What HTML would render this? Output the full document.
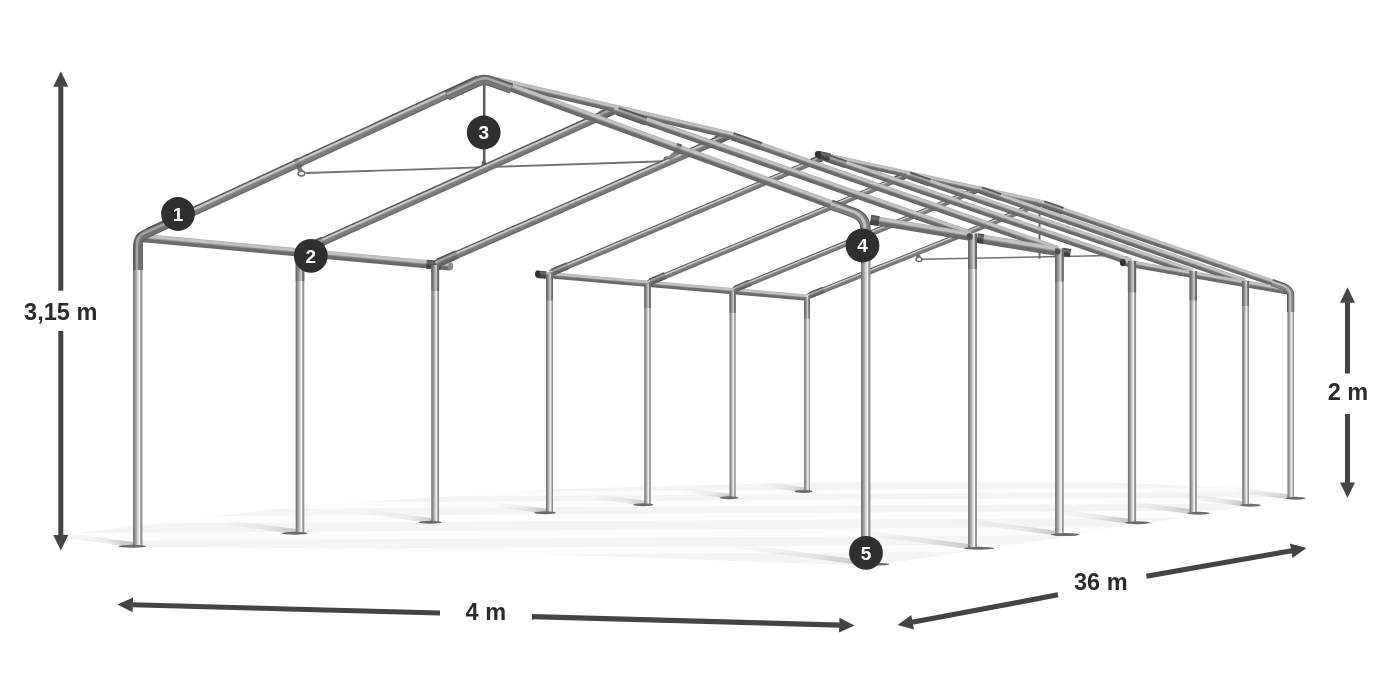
<!DOCTYPE html>
<html><head><meta charset="utf-8"><title>Tent frame</title>
<style>
html,body{margin:0;padding:0;background:#fff;}
body{width:1400px;height:700px;overflow:hidden;}
svg{display:block;font-family:"Liberation Sans",sans-serif;}
text{-webkit-font-smoothing:antialiased;}
</style></head><body>
<svg width="1400" height="700" viewBox="0 0 1400 700">
<rect width="1400" height="700" fill="#ffffff"/>
<g opacity="0.999">

<defs>
<linearGradient id="gr" x1="0" y1="0" x2="0" y2="1">
 <stop offset="0" stop-color="#585858"/><stop offset="0.12" stop-color="#5c5c5c"/>
 <stop offset="0.22" stop-color="#c4c4c4"/><stop offset="0.34" stop-color="#cacaca"/>
 <stop offset="0.48" stop-color="#868686"/><stop offset="0.85" stop-color="#737373"/>
 <stop offset="1" stop-color="#686868"/>
</linearGradient>
<linearGradient id="gc" x1="0" y1="0" x2="0" y2="1">
 <stop offset="0" stop-color="#525252"/><stop offset="0.15" stop-color="#585858"/>
 <stop offset="0.28" stop-color="#a0a0a0"/><stop offset="0.40" stop-color="#a4a4a4"/>
 <stop offset="0.56" stop-color="#707070"/><stop offset="1" stop-color="#5a5a5a"/>
</linearGradient>
<linearGradient id="ge" x1="0" y1="0" x2="0" y2="1">
 <stop offset="0" stop-color="#a4a4a4"/><stop offset="0.10" stop-color="#bebebe"/>
 <stop offset="0.36" stop-color="#c4c4c4"/><stop offset="0.50" stop-color="#8e8e8e"/>
 <stop offset="0.62" stop-color="#6e6e6e"/><stop offset="1" stop-color="#666666"/>
</linearGradient>
<linearGradient id="gd" x1="0" y1="0" x2="0" y2="1">
 <stop offset="0" stop-color="#4a4a4a"/><stop offset="0.3" stop-color="#6e6e6e"/>
 <stop offset="0.6" stop-color="#474747"/><stop offset="1" stop-color="#3a3a3a"/>
</linearGradient>
<linearGradient id="gp" x1="0" y1="0" x2="1" y2="0">
 <stop offset="0" stop-color="#6c6c6c"/><stop offset="0.08" stop-color="#787878"/>
 <stop offset="0.40" stop-color="#b8b8b8"/><stop offset="0.64" stop-color="#f0f0f0"/>
 <stop offset="0.74" stop-color="#f4f4f4"/><stop offset="0.81" stop-color="#9c9c9c"/>
 <stop offset="1" stop-color="#888888"/>
</linearGradient>
<linearGradient id="gpc" x1="0" y1="0" x2="1" y2="0">
 <stop offset="0" stop-color="#626262"/><stop offset="0.15" stop-color="#707070"/>
 <stop offset="0.45" stop-color="#a4a4a4"/><stop offset="0.62" stop-color="#d0d0d0"/>
 <stop offset="0.72" stop-color="#b8b8b8"/><stop offset="0.80" stop-color="#707070"/>
 <stop offset="1" stop-color="#606060"/>
</linearGradient>
<linearGradient id="gsh" x1="1" y1="0" x2="0" y2="0">
 <stop offset="0" stop-color="#000" stop-opacity="0.20"/><stop offset="0.35" stop-color="#000" stop-opacity="0.07"/>
 <stop offset="1" stop-color="#000" stop-opacity="0"/>
</linearGradient>
</defs>
<polygon points="78,533 300,506 560,489 820,482 1100,482 1250,488 1290,499 1080,535 870,566 600,556 300,548 130,547" fill="#f4f4f4"/>
<polygon points="60,494 1310,487 1310,491.5 60,498.5" fill="#fff" fill-opacity="0.75"/>
<polygon points="60,504 1310,497 1310,503 60,510" fill="#fff" fill-opacity="0.8"/>
<polygon points="60,517 1310,510 1310,517 60,524" fill="#fff" fill-opacity="0.8"/>
<polygon points="60,533 1310,526 1310,534 60,541" fill="#fff" fill-opacity="0.75"/>
<polygon points="60,550 1310,543 1310,550 60,557" fill="#fff" fill-opacity="0.7"/>
<rect x="-145.8" y="-5.0" width="145.8" height="5.0" fill="url(#gsh)" transform="translate(862.7,565.2) rotate(7.5)"/>
<rect x="-125.0" y="-5.0" width="125.0" height="5.0" fill="url(#gsh)" transform="translate(969.5,549.2) rotate(7.5)"/>
<rect x="-107.3" y="-5.0" width="107.3" height="5.0" fill="url(#gsh)" transform="translate(1056.4,535.6) rotate(7.5)"/>
<rect x="-91.8" y="-5.0" width="91.8" height="5.0" fill="url(#gsh)" transform="translate(1129.0,523.7) rotate(7.5)"/>
<rect x="-79.5" y="-5.0" width="79.5" height="5.0" fill="url(#gsh)" transform="translate(1190.2,514.2) rotate(7.5)"/>
<rect x="-69.1" y="-5.0" width="69.1" height="5.0" fill="url(#gsh)" transform="translate(1242.6,506.2) rotate(7.5)"/>
<rect x="-60.0" y="-5.0" width="60.0" height="5.0" fill="url(#gsh)" transform="translate(1287.7,499.2) rotate(7.5)"/>
<rect x="-90.4" y="-5.0" width="90.4" height="5.0" fill="url(#gsh)" transform="translate(134.7,547.2) rotate(7.5)"/>
<rect x="-78.7" y="-5.0" width="78.7" height="5.0" fill="url(#gsh)" transform="translate(297.0,534.2) rotate(7.5)"/>
<rect x="-68.8" y="-5.0" width="68.8" height="5.0" fill="url(#gsh)" transform="translate(432.2,523.2) rotate(7.5)"/>
<rect x="-60.2" y="-5.0" width="60.2" height="5.0" fill="url(#gsh)" transform="translate(546.5,513.7) rotate(7.5)"/>
<rect x="-53.0" y="-5.0" width="53.0" height="5.0" fill="url(#gsh)" transform="translate(644.5,505.7) rotate(7.5)"/>
<rect x="-46.8" y="-5.0" width="46.8" height="5.0" fill="url(#gsh)" transform="translate(729.6,498.7) rotate(7.5)"/>
<rect x="-41.1" y="-5.0" width="41.1" height="5.0" fill="url(#gsh)" transform="translate(804.0,492.4) rotate(7.5)"/>
<rect x="0" y="-4.10" width="310.80" height="8.20" fill="url(#ge)" transform="translate(141.00,237.90) rotate(5.243)"/>
<ellipse cx="450.6" cy="266.3" rx="2.6" ry="4.0" fill="#8c8c8c"/>
<rect x="0" y="-4.40" width="14.56" height="8.80" fill="url(#gd)" transform="translate(426.50,264.10) rotate(5.123)"/>
<rect x="0" y="-3.10" width="271.01" height="6.20" fill="url(#ge)" transform="translate(537.00,274.20) rotate(4.953)"/>
<rect x="0" y="-3.70" width="9.04" height="7.40" fill="url(#gd)" transform="translate(537.00,274.20) rotate(5.080)"/>
<ellipse cx="537.6" cy="274.1" rx="2.6" ry="3.5" fill="#333"/>
<rect x="804.12" y="297.50" width="5.75" height="193.70" fill="url(#gp)"/>
<rect x="804.12" y="297.50" width="5.75" height="21.00" fill="url(#gpc)"/>
<ellipse cx="803.50" cy="491.40" rx="9.00" ry="1.5" fill="#6a6a6a"/>
<rect x="729.55" y="291.00" width="6.10" height="206.50" fill="url(#gp)"/>
<rect x="729.55" y="291.00" width="6.10" height="22.00" fill="url(#gpc)"/>
<ellipse cx="729.10" cy="497.70" rx="9.60" ry="1.5" fill="#6a6a6a"/>
<rect x="644.30" y="284.00" width="6.40" height="220.50" fill="url(#gp)"/>
<rect x="644.30" y="284.00" width="6.40" height="24.00" fill="url(#gpc)"/>
<ellipse cx="643.35" cy="504.70" rx="10.35" ry="1.5" fill="#6a6a6a"/>
<rect x="546.00" y="274.50" width="7.00" height="238.00" fill="url(#gp)"/>
<rect x="546.00" y="274.50" width="7.00" height="26.00" fill="url(#gpc)"/>
<ellipse cx="545.00" cy="512.70" rx="11.00" ry="1.5" fill="#6a6a6a"/>
<rect x="431.30" y="265.00" width="7.80" height="257.00" fill="url(#gp)"/>
<rect x="431.30" y="265.00" width="7.80" height="26.00" fill="url(#gpc)"/>
<ellipse cx="430.35" cy="522.20" rx="11.65" ry="1.5" fill="#6a6a6a"/>
<rect x="295.70" y="252.50" width="8.60" height="280.50" fill="url(#gp)"/>
<rect x="295.70" y="252.50" width="8.60" height="28.50" fill="url(#gpc)"/>
<ellipse cx="294.75" cy="533.20" rx="12.75" ry="1.5" fill="#6a6a6a"/>
<rect x="133.00" y="244.00" width="9.40" height="302.00" fill="url(#gp)"/>
<rect x="133.00" y="244.00" width="9.40" height="26.00" fill="url(#gpc)"/>
<ellipse cx="132.25" cy="546.20" rx="13.95" ry="1.5" fill="#6a6a6a"/>
<line x1="305.70" y1="173.00" x2="664.00" y2="161.30" stroke="#727272" stroke-width="1.90" stroke-linecap="butt"/>
<line x1="484.20" y1="84.00" x2="484.20" y2="168.30" stroke="#626262" stroke-width="2.60" stroke-linecap="butt"/>
<line x1="921.00" y1="259.20" x2="1100.00" y2="255.80" stroke="#707070" stroke-width="1.60" stroke-linecap="butt"/>
<line x1="1100.00" y1="255.80" x2="1128.00" y2="257.00" stroke="#8a8a8a" stroke-width="1.20" stroke-linecap="butt"/>
<line x1="1039.50" y1="205.00" x2="1039.50" y2="258.80" stroke="#6a6a6a" stroke-width="2.00" stroke-linecap="butt"/>
<ellipse cx="301.4" cy="173.6" rx="3.3" ry="2.5" fill="none" stroke="#6c6c6c" stroke-width="1.5"/>
<ellipse cx="667.2" cy="159.4" rx="3.0" ry="2.4" fill="none" stroke="#6c6c6c" stroke-width="1.5"/>
<ellipse cx="919.0" cy="259.4" rx="3.1" ry="2.1" fill="none" stroke="#6c6c6c" stroke-width="1.3"/>
<polygon points="914.2,253.2 917.4,251.8 921.4,257.6 917.2,258.4" fill="#707070"/>
<ellipse cx="484" cy="164.5" rx="1.6" ry="4.2" fill="none" stroke="#666" stroke-width="1.2"/>
<rect x="0" y="-2.85" width="249.50" height="5.70" fill="url(#gr)" transform="translate(808.00,296.30) rotate(-21.836)"/>
<rect x="0" y="-3.25" width="14.87" height="6.50" fill="url(#gc)" transform="translate(809.86,295.26) rotate(-21.857)"/>
<rect x="0" y="-3.15" width="8.91" height="6.30" fill="url(#gc)" transform="translate(1030.40,206.79) rotate(-21.857)"/>
<rect x="0" y="-2.95" width="263.18" height="5.90" fill="url(#gr)" transform="translate(733.60,289.80) rotate(-22.355)"/>
<rect x="0" y="-3.35" width="15.39" height="6.70" fill="url(#gc)" transform="translate(735.45,288.74) rotate(-22.375)"/>
<rect x="0" y="-3.25" width="9.26" height="6.50" fill="url(#gc)" transform="translate(967.51,193.21) rotate(-22.375)"/>
<rect x="0" y="-3.10" width="278.42" height="6.20" fill="url(#gr)" transform="translate(648.50,282.80) rotate(-22.623)"/>
<rect x="0" y="-3.50" width="16.17" height="7.00" fill="url(#gc)" transform="translate(650.35,281.73) rotate(-22.642)"/>
<rect x="0" y="-3.40" width="9.78" height="6.80" fill="url(#gc)" transform="translate(895.55,179.45) rotate(-22.642)"/>
<rect x="0" y="-3.25" width="295.01" height="6.50" fill="url(#gr)" transform="translate(550.50,273.30) rotate(-23.028)"/>
<rect x="0" y="-3.65" width="16.96" height="7.30" fill="url(#gc)" transform="translate(552.34,272.22) rotate(-23.046)"/>
<rect x="0" y="-3.55" width="10.30" height="7.10" fill="url(#gc)" transform="translate(811.60,161.93) rotate(-23.046)"/>
<rect x="0" y="-4.00" width="319.57" height="8.00" fill="url(#gr)" transform="translate(436.20,263.80) rotate(-23.709)"/>
<rect x="0" y="-4.40" width="20.87" height="8.80" fill="url(#gc)" transform="translate(438.03,262.70) rotate(-23.726)"/>
<rect x="0" y="-4.30" width="12.91" height="8.60" fill="url(#gc)" transform="translate(716.06,140.50) rotate(-23.726)"/>
<rect x="0" y="-4.25" width="343.15" height="8.50" fill="url(#gr)" transform="translate(301.00,251.30) rotate(-24.280)"/>
<rect x="0" y="-4.65" width="22.17" height="9.30" fill="url(#gc)" transform="translate(302.82,250.18) rotate(-24.295)"/>
<rect x="0" y="-4.55" width="13.78" height="9.10" fill="url(#gc)" transform="translate(600.33,115.88) rotate(-24.295)"/>
<rect x="0" y="-3.30" width="226.25" height="6.60" fill="url(#ge)" transform="translate(818.50,154.80) rotate(12.249)"/>
<rect x="0" y="-3.40" width="258.37" height="6.80" fill="url(#ge)" transform="translate(1039.60,202.80) rotate(18.926)"/>
<rect x="0" y="-3.80" width="20.29" height="7.60" fill="url(#gc)" transform="translate(1043.38,204.10) rotate(18.926)"/>
<rect x="0" y="-3.45" width="283.37" height="6.90" fill="url(#ge)" transform="translate(977.00,188.80) rotate(19.202)"/>
<rect x="0" y="-3.85" width="20.64" height="7.70" fill="url(#gc)" transform="translate(980.78,190.12) rotate(19.202)"/>
<rect x="0" y="-3.55" width="302.89" height="7.10" fill="url(#ge)" transform="translate(905.50,174.30) rotate(18.818)"/>
<rect x="0" y="-3.95" width="21.36" height="7.90" fill="url(#gc)" transform="translate(909.29,175.59) rotate(18.818)"/>
<rect x="0" y="-3.65" width="327.69" height="7.30" fill="url(#ge)" transform="translate(821.00,155.80) rotate(18.910)"/>
<rect x="0" y="-4.05" width="22.07" height="8.10" fill="url(#gc)" transform="translate(824.78,157.10) rotate(18.910)"/>
<rect x="0" y="-3.90" width="12.30" height="7.80" fill="url(#gd)" transform="translate(818.00,154.60) rotate(12.680)"/>
<ellipse cx="817.9" cy="154.2" rx="3.1" ry="3.3" fill="#303030"/>
<rect x="0" y="-3.40" width="168.51" height="6.80" fill="url(#ge)" transform="translate(1123.00,262.40) rotate(9.909)"/>
<ellipse cx="1122.8" cy="262.6" rx="3.0" ry="3.7" fill="#353535"/>
<rect x="1287.50" y="294.00" width="6.40" height="204.00" fill="url(#gp)"/>
<rect x="1287.50" y="294.00" width="6.40" height="18.00" fill="url(#gpc)"/>
<ellipse cx="1295.60" cy="498.20" rx="10.10" ry="1.5" fill="#6a6a6a"/>
<rect x="1242.25" y="281.00" width="6.70" height="224.00" fill="url(#gp)"/>
<rect x="1242.25" y="281.00" width="6.70" height="25.00" fill="url(#gpc)"/>
<ellipse cx="1250.50" cy="505.20" rx="10.50" ry="1.5" fill="#6a6a6a"/>
<rect x="1189.60" y="271.00" width="7.20" height="242.00" fill="url(#gp)"/>
<rect x="1189.60" y="271.00" width="7.20" height="29.50" fill="url(#gpc)"/>
<ellipse cx="1198.50" cy="513.20" rx="11.50" ry="1.5" fill="#6a6a6a"/>
<rect x="1127.90" y="261.00" width="8.20" height="261.50" fill="url(#gp)"/>
<rect x="1127.90" y="261.00" width="8.20" height="31.50" fill="url(#gpc)"/>
<ellipse cx="1137.50" cy="522.70" rx="12.50" ry="1.5" fill="#6a6a6a"/>
<path d="M1272,282.50 L1283,286.30 Q1290.70,288.80 1290.70,296 L1290.70,312" fill="none" stroke="#5c5c5c" stroke-width="7.2"/>
<path d="M1272,282.70 L1283,286.50 Q1290.80,289.00 1290.80,296 L1290.80,312" fill="none" stroke="#858585" stroke-width="5.4"/>
<path d="M1272,281.80 L1283,285.60 Q1290.35,288.10 1290.35,296 L1290.35,312" fill="none" stroke="#bcbcbc" stroke-width="2.0"/>
<rect x="0" y="-3.70" width="239.05" height="7.40" fill="url(#ge)" transform="translate(496.00,80.60) rotate(13.129)"/>
<rect x="0" y="-3.80" width="348.01" height="7.60" fill="url(#ge)" transform="translate(728.80,134.90) rotate(19.226)"/>
<rect x="0" y="-4.20" width="30.00" height="8.40" fill="url(#gc)" transform="translate(732.58,136.22) rotate(19.226)"/>
<rect x="0" y="-3.95" width="377.87" height="7.90" fill="url(#ge)" transform="translate(613.80,109.80) rotate(19.269)"/>
<rect x="0" y="-4.35" width="30.00" height="8.70" fill="url(#gc)" transform="translate(617.58,111.12) rotate(19.269)"/>
<rect x="0" y="-4.40" width="100.37" height="8.80" fill="url(#ge)" transform="translate(871.00,219.80) rotate(9.462)"/>
<rect x="0" y="-5.00" width="8.61" height="10.00" fill="url(#gd)" transform="translate(870.50,219.70) rotate(9.353)"/>
<rect x="0" y="-4.60" width="81.05" height="9.20" fill="url(#ge)" transform="translate(978.00,238.40) rotate(9.230)"/>
<rect x="0" y="-4.80" width="6.59" height="9.60" fill="url(#gd)" transform="translate(977.00,238.00) rotate(9.605)"/>
<rect x="0" y="-4.00" width="8.09" height="8.00" fill="url(#gd)" transform="translate(1062.50,251.80) rotate(8.531)"/>
<rect x="1055.10" y="248.50" width="8.60" height="285.90" fill="url(#gp)"/>
<rect x="1055.10" y="248.50" width="8.60" height="33.00" fill="url(#gpc)"/>
<ellipse cx="1065.25" cy="534.60" rx="14.25" ry="1.5" fill="#6a6a6a"/>
<rect x="968.10" y="233.50" width="8.80" height="314.50" fill="url(#gp)"/>
<rect x="968.10" y="233.50" width="8.80" height="35.50" fill="url(#gpc)"/>
<ellipse cx="979.20" cy="548.20" rx="15.20" ry="1.5" fill="#6a6a6a"/>
<circle cx="969.6" cy="236.8" r="3.2" fill="#505050"/><circle cx="1057.6" cy="251.4" r="3.0" fill="#505050"/>
<rect x="0" y="-4.60" width="362.00" height="9.20" fill="url(#gr)" transform="translate(150.00,231.70) rotate(-24.845)"/>
<path d="M138.00,270 L138.00,245 Q138.00,237.40 145.00,234.20 L168.00,223.60" fill="none" stroke="#525252" stroke-width="9.4" stroke-linecap="butt"/>
<path d="M138.20,270 L138.20,245 Q138.20,237.60 145.20,234.40 L168.08,223.80" fill="none" stroke="#707070" stroke-width="7.4" stroke-linecap="butt"/>
<path d="M137.00,270 L137.00,245 Q137.00,236.40 144.00,233.20 L167.60,222.60" fill="none" stroke="#a4a4a4" stroke-width="2.4" stroke-linecap="butt"/>
<rect x="0" y="-4.20" width="383.77" height="8.40" fill="url(#ge)" transform="translate(489.50,79.60) rotate(20.055)"/>
<path d="M447,95.60 L477,81.80 Q483.7,78.40 490.5,81.10 L511.4,88.70" fill="none" stroke="#585858" stroke-width="10.4"/>
<path d="M447,95.80 L477,82.00 Q483.7,78.60 490.5,81.30 L511.4,88.90" fill="none" stroke="#767676" stroke-width="8.4"/>
<path d="M447,94.00 L477,80.20 Q483.7,76.80 490.5,79.50 L511.4,87.10" fill="none" stroke="#a8a8a8" stroke-width="2.4"/>
<rect x="861.00" y="226.00" width="9.40" height="338.00" fill="url(#gp)"/>
<ellipse cx="873.30" cy="564.20" rx="16.30" ry="1.5" fill="#6a6a6a"/>
<path d="M831,204.60 L852,212.20 Q865.50,216.50 865.50,229 L865.50,258" fill="none" stroke="#585858" stroke-width="10.2"/>
<path d="M831,204.80 L852,212.40 Q865.60,216.70 865.60,229 L865.60,258" fill="none" stroke="#808080" stroke-width="8.2"/>
<path d="M831,203.60 L852,211.20 Q865.00,215.50 865.00,229 L865.00,258" fill="none" stroke="#c0c0c0" stroke-width="3.0"/>
<polygon points="295.2,166.8 299.8,164.6 303.6,171.6 299.2,172.2" fill="#7a7a7a"/>
<polygon points="674.2,151.2 679.4,153.0 670.4,160.2 667.4,157.2" fill="#808080"/>
<rect x="0" y="-5.00" width="5.00" height="10.00" fill="url(#gc)" transform="translate(295.65,164.27) rotate(-24.844)"/>
<rect x="0" y="-4.80" width="5.00" height="9.60" fill="url(#gc)" transform="translate(675.80,147.62) rotate(20.052)"/>
<circle cx="178" cy="214" r="16.9" fill="#2f2f2f"/>
<text x="178" y="220.9" text-anchor="middle" font-size="19" font-weight="700" fill="#fff">1</text>
<circle cx="310.8" cy="255.8" r="16.9" fill="#2f2f2f"/>
<text x="310.8" y="262.7" text-anchor="middle" font-size="19" font-weight="700" fill="#fff">2</text>
<circle cx="483.7" cy="132.5" r="16.9" fill="#2f2f2f"/>
<text x="483.7" y="139.4" text-anchor="middle" font-size="19" font-weight="700" fill="#fff">3</text>
<circle cx="862.5" cy="245.5" r="16.9" fill="#2f2f2f"/>
<text x="862.5" y="252.4" text-anchor="middle" font-size="19" font-weight="700" fill="#fff">4</text>
<circle cx="866" cy="552.8" r="16.9" fill="#2f2f2f"/>
<text x="866" y="559.6999999999999" text-anchor="middle" font-size="19" font-weight="700" fill="#fff">5</text>
<line x1="60.80" y1="86.30" x2="60.80" y2="290.80" stroke="#444444" stroke-width="5.00" stroke-linecap="butt"/>
<line x1="60.80" y1="331.00" x2="60.80" y2="535.40" stroke="#444444" stroke-width="5.00" stroke-linecap="butt"/>
<polygon points="60.80,71.30 53.30,86.80 68.30,86.80" fill="#444444"/>
<polygon points="60.80,550.40 53.30,534.90 68.30,534.90" fill="#444444"/>
<line x1="1347.50" y1="302.20" x2="1347.50" y2="373.50" stroke="#444444" stroke-width="5.00" stroke-linecap="butt"/>
<line x1="1347.50" y1="414.00" x2="1347.50" y2="483.00" stroke="#444444" stroke-width="5.00" stroke-linecap="butt"/>
<polygon points="1347.50,287.20 1340.00,302.70 1355.00,302.70" fill="#444444"/>
<polygon points="1347.50,498.00 1340.00,482.50 1355.00,482.50" fill="#444444"/>
<line x1="132.29" y1="604.80" x2="440.00" y2="613.00" stroke="#444444" stroke-width="5.10" stroke-linecap="butt"/>
<polygon points="117.40,604.40 132.60,612.21 132.99,597.41" fill="#444444"/>
<line x1="839.71" y1="625.09" x2="532.00" y2="616.60" stroke="#444444" stroke-width="5.10" stroke-linecap="butt"/>
<polygon points="854.60,625.50 839.41,617.68 839.00,632.47" fill="#444444"/>
<line x1="912.14" y1="622.24" x2="1058.00" y2="594.80" stroke="#444444" stroke-width="5.10" stroke-linecap="butt"/>
<polygon points="897.50,625.00 914.00,629.42 911.27,614.88" fill="#444444"/>
<line x1="1291.72" y1="550.68" x2="1146.40" y2="576.20" stroke="#444444" stroke-width="5.10" stroke-linecap="butt"/>
<polygon points="1306.40,548.10 1289.95,543.48 1292.51,558.05" fill="#444444"/>
<text x="60.7" y="319.9" text-anchor="middle" font-size="23.5" font-weight="700" fill="#2b2b2b">3,15 m</text>
<text x="485.8" y="619.6" text-anchor="middle" font-size="23.5" font-weight="700" fill="#2b2b2b">4 m</text>
<text x="1100.8" y="590.4" text-anchor="middle" font-size="23.5" font-weight="700" fill="#2b2b2b">36 m</text>
<text x="1348" y="399.6" text-anchor="middle" font-size="23.5" font-weight="700" fill="#2b2b2b">2 m</text>
</g>
</svg>
</body></html>
